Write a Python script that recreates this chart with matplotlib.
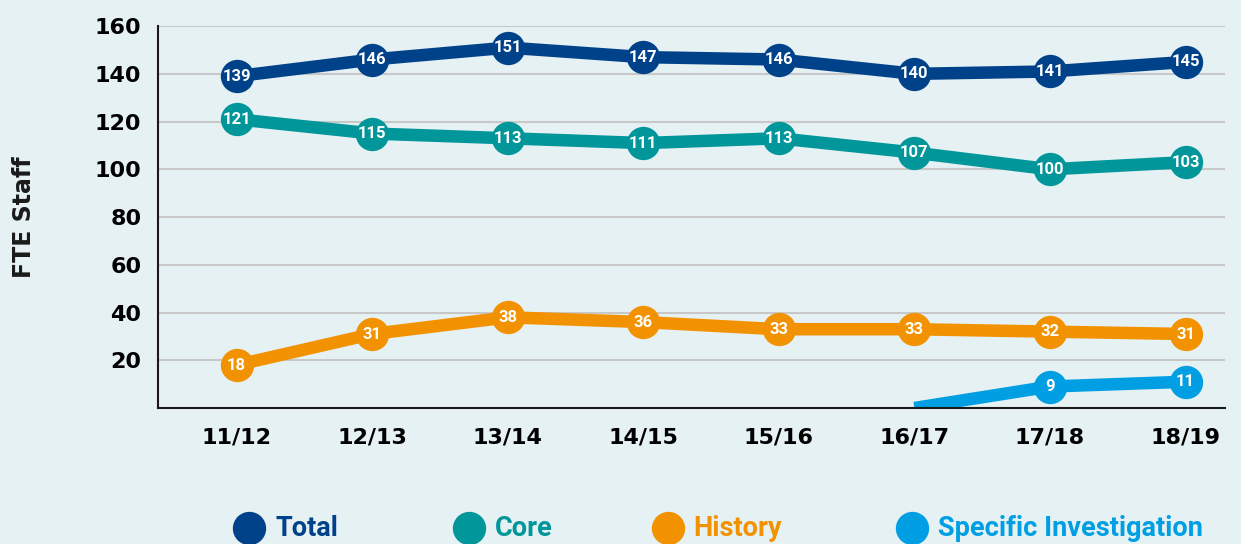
import numpy as np
import matplotlib
matplotlib.use('Agg')
import matplotlib.pyplot as plt
from matplotlib.lines import Line2D

years = ['11/12', '12/13', '13/14', '14/15', '15/16', '16/17', '17/18', '18/19']
total = [139, 146, 151, 147, 146, 140, 141, 145]
core = [121, 115, 113, 111, 113, 107, 100, 103]
history = [18, 31, 38, 36, 33, 33, 32, 31]
specific = [np.nan, np.nan, np.nan, np.nan, np.nan, 0, 9, 11]

series = [
    ('Total', total, '#00428a'),
    ('Core', core, '#00969a'),
    ('History', history, '#f39200'),
    ('Specific Investigation', specific, '#009fe3'),
]

BG = '#e6f1f4'
COND = ['Roboto', 'DejaVu Sans']

fig = plt.figure(figsize=(12.41, 5.44), dpi=100, facecolor=BG)
ax = fig.add_axes([0.1273, 0.25, 0.8597, 0.702])
ax.set_facecolor(BG)

x = np.arange(len(years))
for name, vals, color in series:
    vals = np.array(vals, dtype=float)
    ax.plot(x, vals, color=color, lw=9, solid_capstyle='butt', zorder=3)
    show = vals > 0
    ax.plot(x[show], vals[show], 'o', ms=24, color=color, mec='none', zorder=4)
    for xi, v in zip(x[show], vals[show]):
        ax.text(xi, v, '%d' % v, ha='center', va='center', color='white',
                fontsize=12, fontweight='bold', family=COND, zorder=5)

ax.set_xlim(-0.58, 7.29)
ax.set_ylim(0, 160)
ax.set_yticks(range(20, 161, 20))
ax.set_xticks(x)
ax.set_xticklabels(years)
ax.yaxis.grid(True, color='#c8c8c8', lw=1.5, zorder=0)
ax.set_axisbelow(True)
ax.tick_params(length=0, labelsize=16, pad=12)
ax.tick_params(axis='x', pad=14)
for lab in ax.get_xticklabels() + ax.get_yticklabels():
    lab.set_fontweight('bold')
for s in ['top', 'right']:
    ax.spines[s].set_visible(False)
for s in ['left', 'bottom']:
    ax.spines[s].set_color('#1a1a1a')
    ax.spines[s].set_linewidth(1.5)
    ax.spines[s].set_zorder(6)

fig.text(0.019, 0.6, 'FTE Staff', rotation=90, ha='center', va='center',
         fontsize=17, fontweight='bold', color='#1a1a1a')

# legend
leg_x = [0.201, 0.378, 0.538, 0.735]
for (name, vals, color), lx in zip(series, leg_x):
    fig.add_artist(Line2D([lx], [0.03], marker='o', ms=24, color=color,
                          mec='none', transform=fig.transFigure))
    fig.text(lx + 0.021, 0.028, name, ha='left', va='center', color=color,
             fontsize=19.5, fontweight='bold', family=COND)

fig.savefig('out.png', dpi=100, facecolor=BG)
